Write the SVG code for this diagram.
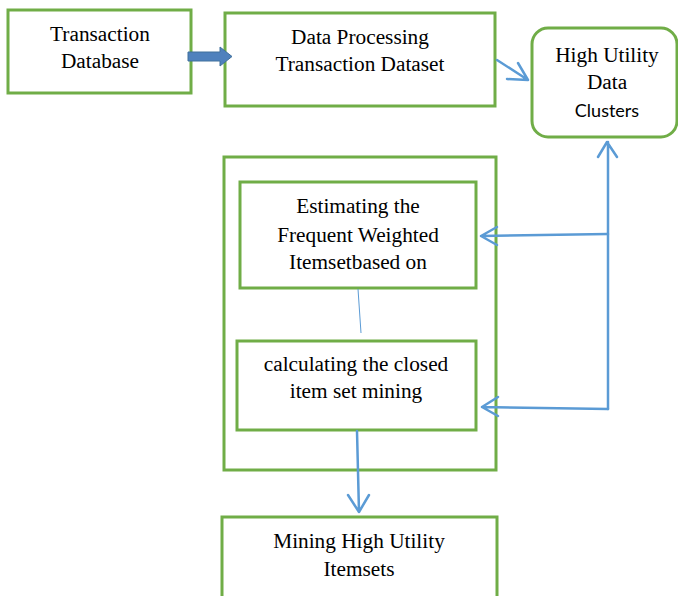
<svg xmlns="http://www.w3.org/2000/svg" width="678" height="596" viewBox="0 0 678 596">
<style>
.box{fill:#fff;stroke:#70AD47;stroke-width:3}
.t{font-family:"Liberation Serif","Times New Roman",serif;font-size:21.3px;fill:#000;text-anchor:middle}
.s{font-family:Lato,"Open Sans",sans-serif;font-size:18px;fill:#000;text-anchor:middle}
.c{fill:none;stroke:#5B9BD5;stroke-width:2.5;stroke-linecap:round;stroke-linejoin:round}
.thin{fill:none;stroke:#5B9BD5;stroke-width:1}
</style>
<rect width="678" height="596" fill="#fff"/>
<g id="outer"><rect class="box" x="224" y="157" width="272" height="313"/></g>
<g id="transaction-db"><rect class="box" x="8" y="10" width="183" height="83"/>
<text class="t" x="100" y="41">Transaction</text><text class="t" x="100" y="68">Database</text></g>
<g id="data-processing"><rect class="box" x="225" y="13" width="270" height="93"/>
<text class="t" x="360" y="44">Data Processing</text><text class="t" x="360" y="71">Transaction Dataset</text></g>
<g id="high-utility-clusters"><rect class="box" x="532" y="28" width="145" height="109" rx="16"/>
<text class="t" x="607" y="62">High Utility</text><text class="t" x="607" y="89">Data</text><text class="s" x="607" y="117">Clusters</text></g>
<g id="estimating"><rect class="box" x="240" y="182" width="236" height="106"/>
<text class="t" x="358" y="213">Estimating the</text><text class="t" x="358" y="242">Frequent Weighted</text><text class="t" x="358" y="269">Itemsetbased on</text></g>
<g id="calculating"><rect class="box" x="237" y="341" width="239" height="89"/>
<text class="t" x="356" y="371">calculating the closed</text><text class="t" x="356" y="398">item set mining</text></g>
<g id="mining"><rect class="box" x="222" y="517" width="275" height="90"/>
<text class="t" x="359" y="548">Mining High Utility</text><text class="t" x="359" y="576">Itemsets</text></g>
<g id="connectors">
<path d="M188,52 H220 V47 L232,56.5 L220,66 V61 H188 Z" fill="#4F81BD" stroke="#41719C" stroke-width="1"/>
<path class="c" d="M497,60 L528,80 M507,79 L528,80 L518,63"/>
<path class="c" d="M608,409 V142 M598,157 L607,142 L617,157"/>
<path class="c" d="M608,234 L481,236 M497,227 L481,236 L497,245"/>
<path class="c" d="M608,409 L482,407 M498,397 L482,407 L498,416"/>
<path class="thin" d="M358,289 L361,333"/>
<path class="c" d="M357,431 L359,512 M348,495 L359,512 L369,495"/>
</g>
</svg>
